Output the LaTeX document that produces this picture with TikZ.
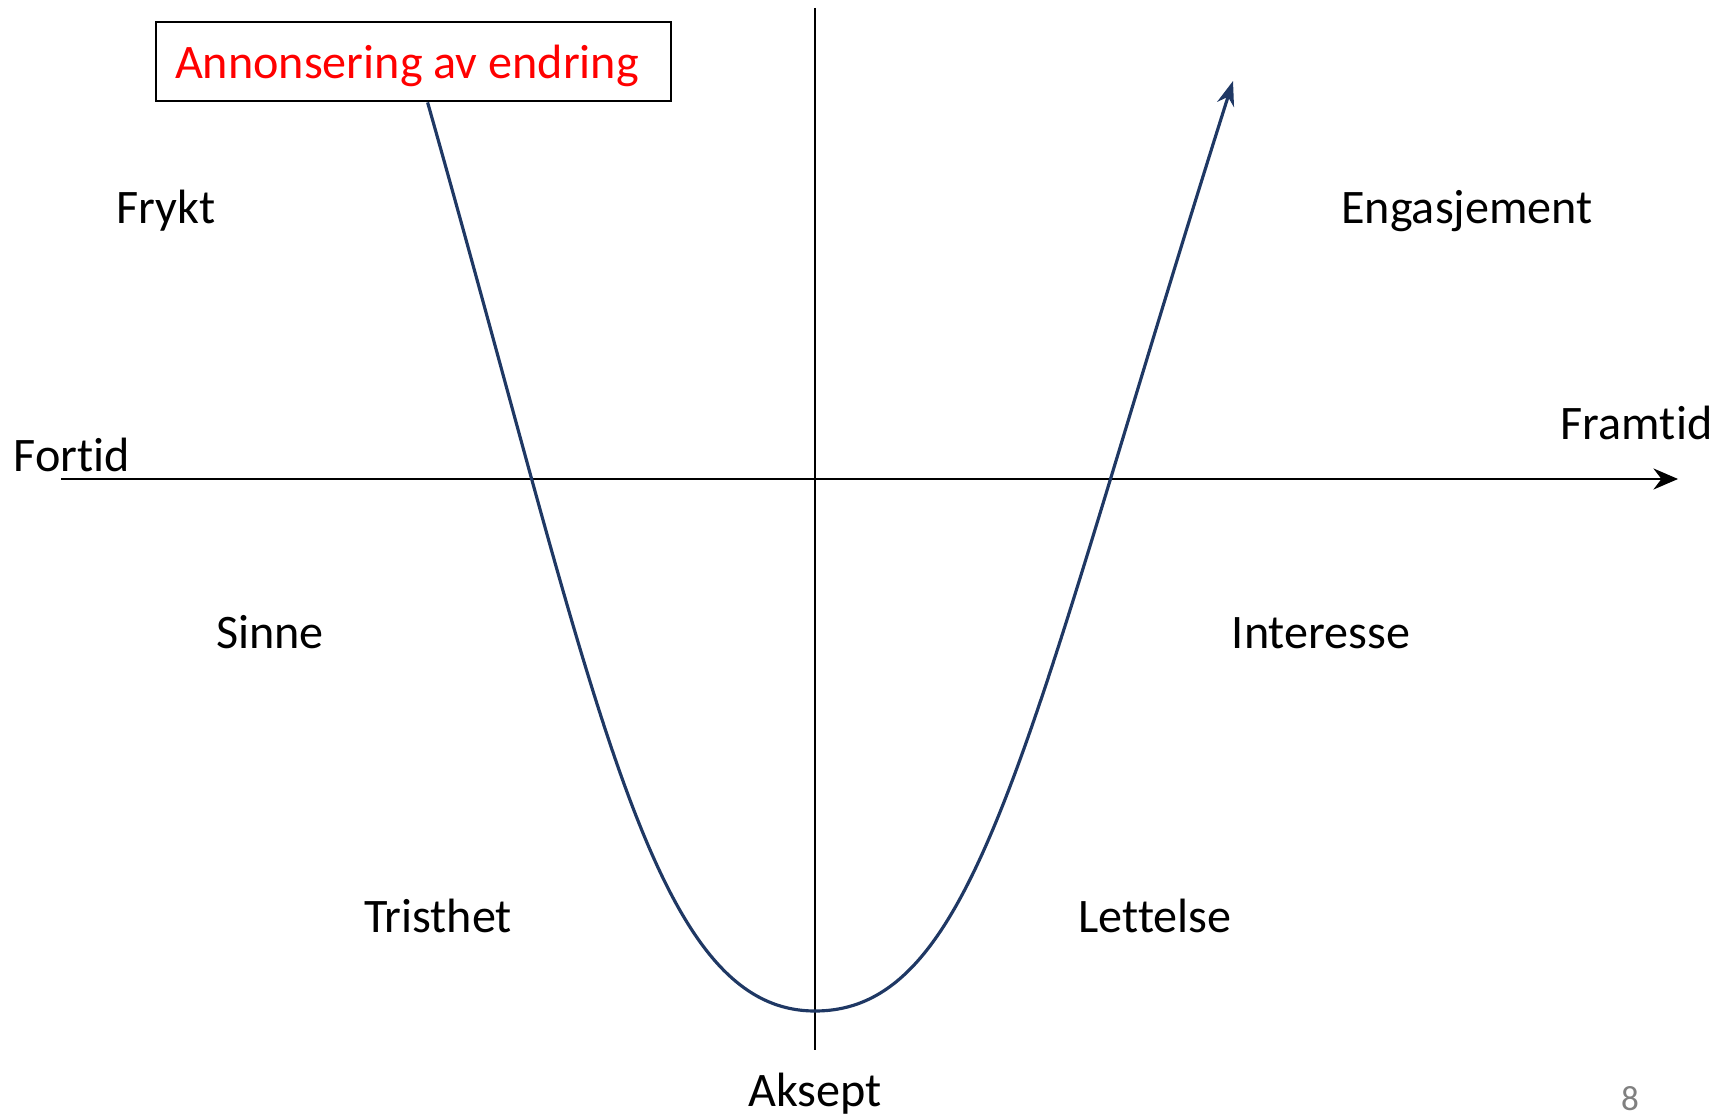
\documentclass[tikz,border=0pt]{standalone}
\usepackage{fontspec}
\setmainfont{Carlito}[RawFeature=-liga]
\usetikzlibrary{arrows.meta}
\definecolor{kurve}{HTML}{1F3864}

\begin{document}
\begin{tikzpicture}[
  lbl/.style={font=\fontsize{13.7}{16}\selectfont,inner sep=0pt,anchor=base},
  merke/.style={draw,line width=0.8pt,minimum width=5.15cm,minimum height=0.79cm,inner sep=0pt},
  akse/.style={line width=0.6pt,-{Stealth[length=7pt,width=6pt]}}]
  \useasboundingbox (0,0) rectangle (17.33,11.14);
  % ---------- axes ----------
  \coordinate (fra) at (0.61,6.35);
  \coordinate (til) at (16.78,6.35);
  \coordinate (opp) at (8.15,11.06);
  \coordinate (ned) at (8.15,0.64);
  \draw[akse] (fra) -- (til);
  \draw[line width=0.45pt] (opp) -- (ned);
  % ---------- announcement ----------
  \node[merke] (ann) at (4.135,10.525) {};
  \node[lbl,text=red] (anntxt) at (4.07,10.35) {Annonsering av endring};
  % ---------- curve ----------
  \coordinate (bunn) at (8.15,1.03);
  \coordinate (topp) at (12.33,10.33);
  \draw[kurve,line width=0.9pt,-{Stealth[length=7pt,width=5pt]}]
    ([xshift=2.73cm]ann.south west) .. controls (5.98,4.11) and (6.50,1.03) .. (bunn)
    .. controls (9.80,1.03) and (10.27,3.83) .. (topp);
  % ---------- labels ----------
  \node[lbl] (frykt) at (1.66,8.90) {Frykt};
  \node[lbl] (engasj) at (14.67,8.90) {Engasjement};
  \node[lbl,anchor=base west] (fortid) at (0.13,6.42) {Fortid};
  \node[lbl,anchor=base east] (framtid) at (17.13,6.74) {Framtid};
  \node[lbl] (sinne) at (2.70,4.66) {Sinne};
  \node[lbl] (interesse) at (13.21,4.66) {Interesse};
  \node[lbl] (tristhet) at (4.38,1.82) {Tristhet};
  \node[lbl] (lettelse) at (11.55,1.82) {Lettelse};
  \node[lbl] (aksept) at (8.15,0.08) {Aksept};
  \node[lbl,font=\fontsize{10}{12}\selectfont,text=gray] (side) at (16.30,0.04) {8};
\end{tikzpicture}
\end{document}
